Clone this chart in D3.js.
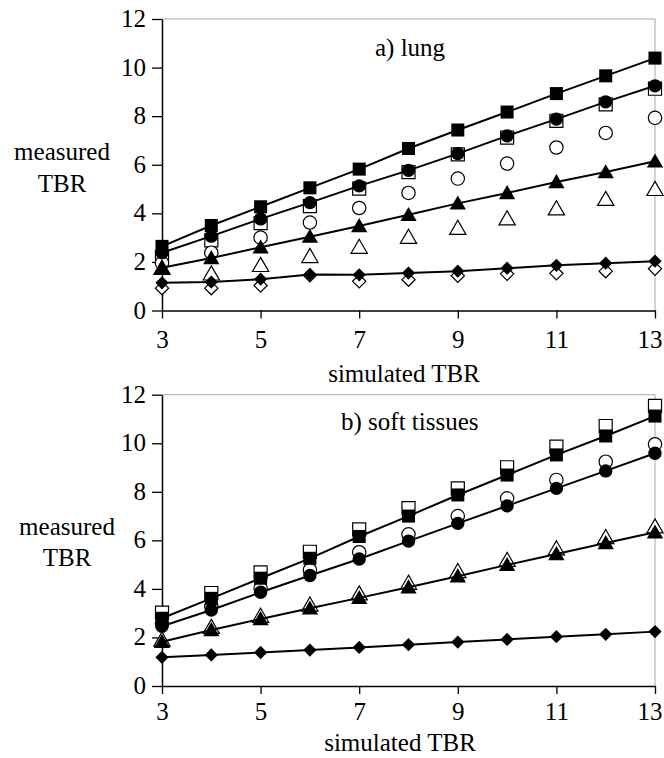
<!DOCTYPE html>
<html>
<head>
<meta charset="utf-8">
<script src="https://cdn.jsdelivr.net/npm/d3@7"></script>
<style>
  html, body { margin: 0; padding: 0; background: #fff; }
  svg { display: block; }
</style>
</head>
<body>
<svg id="chart" width="664" height="758"></svg>
<script>
// Simulated TBR values (x axis)
const simulatedTBR = [3, 4, 5, 6, 7, 8, 9, 10, 11, 12, 13];
const xTicks = [3, 5, 7, 9, 11, 13];
const yTicks = [0, 2, 4, 6, 8, 10, 12];

// a) lung — measured TBR
const lungSquareFilled  = [2.64, 3.50, 4.27, 5.05, 5.82, 6.67, 7.43, 8.17, 8.93, 9.66, 10.39];
const lungCircleFilled  = [2.38, 3.06, 3.77, 4.44, 5.13, 5.77, 6.46, 7.19, 7.88, 8.59, 9.25];
const lungSquareOpen    = [2.22, 2.89, 3.60, 4.30, 5.02, 5.70, 6.43, 7.12, 7.81, 8.49, 9.13];
const lungCircleOpen    = [1.95, 2.38, 3.00, 3.62, 4.22, 4.84, 5.43, 6.05, 6.71, 7.31, 7.93];
const lungTriangleFilled = [1.76, 2.16, 2.60, 3.04, 3.48, 3.94, 4.41, 4.84, 5.29, 5.70, 6.14];
const lungTriangleOpen  = [1.74, 1.51, 1.86, 2.23, 2.61, 3.02, 3.39, 3.78, 4.19, 4.58, 4.99];
const lungDiamondFilled = [1.14, 1.17, 1.29, 1.48, 1.47, 1.54, 1.62, 1.74, 1.86, 1.95, 2.03];
const lungDiamondOpen   = [0.92, 0.92, 1.03, 1.45, 1.20, 1.27, 1.43, 1.51, 1.53, 1.62, 1.72];

// b) soft tissues — measured TBR
const softSquareFilled  = [2.79, 3.61, 4.44, 5.26, 6.16, 7.00, 7.87, 8.69, 9.52, 10.30, 11.12];
const softSquareOpen    = [3.02, 3.83, 4.68, 5.53, 6.45, 7.33, 8.14, 9.01, 9.86, 10.71, 11.54];
const softCircleFilled  = [2.46, 3.13, 3.86, 4.55, 5.23, 5.97, 6.70, 7.42, 8.14, 8.86, 9.59];
const softCircleOpen    = [2.56, 3.27, 4.03, 4.78, 5.51, 6.25, 7.00, 7.73, 8.49, 9.24, 9.96];
const softTriangleFilled = [1.82, 2.31, 2.76, 3.20, 3.63, 4.07, 4.52, 4.99, 5.44, 5.89, 6.33];
const softTriangleOpen  = [1.90, 2.42, 2.88, 3.34, 3.80, 4.24, 4.72, 5.18, 5.66, 6.12, 6.56];
const softDiamondFilled = [1.18, 1.28, 1.38, 1.48, 1.59, 1.70, 1.81, 1.92, 2.03, 2.13, 2.24];

// pick the first installed Times-like face; fall back to the generic serif
function pickFont(candidates) {
  const ctx = document.createElement("canvas").getContext("2d");
  const probe = "measured TBR simulated 0123456789";
  const widthWith = f => { ctx.font = `40px ${f}`; return ctx.measureText(probe).width; };
  for (const name of candidates) {
    const q = `"${name}"`;
    if (widthWith(`${q}, monospace`) !== widthWith("monospace") ||
        widthWith(`${q}, sans-serif`) !== widthWith("sans-serif")) {
      return `${q}, serif`;
    }
  }
  return "serif";
}
const FONT = pickFont(["Liberation Serif", "Times New Roman", "Tinos", "DejaVu Serif", "Noto Serif"]);

// diamond drawn as a square turned 45 degrees (equal width and height)
const symbolRhomb = {
  draw(context, size) {
    const r = Math.sqrt(size / 2);
    context.moveTo(0, -r);
    context.lineTo(r, 0);
    context.lineTo(0, r);
    context.lineTo(-r, 0);
    context.closePath();
  }
};

const panels = [
  {
    title: "a) lung", titleX: 375, titleY: 56,
    top: 19, bottom: 310.5, tickLabelBaseline: 37, axisTitleX: 404, axisTitleY: 382,
    yLabelX: 62, yLabelY: [160, 192],
    open: [
      { values: lungSquareOpen, symbol: d3.symbolSquare },
      { values: lungCircleOpen, symbol: d3.symbolCircle },
      { values: lungTriangleOpen, symbol: d3.symbolTriangle },
      { values: lungDiamondOpen, symbol: symbolRhomb }
    ],
    filled: [
      { values: lungDiamondFilled, symbol: symbolRhomb },
      { values: lungTriangleFilled, symbol: d3.symbolTriangle },
      { values: lungCircleFilled, symbol: d3.symbolCircle },
      { values: lungSquareFilled, symbol: d3.symbolSquare }
    ]
  },
  {
    title: "b) soft tissues", titleX: 341, titleY: 430,
    top: 394.7, bottom: 686, tickLabelBaseline: 34, axisTitleX: 400, axisTitleY: 751,
    yLabelX: 67, yLabelY: [535, 566],
    open: [
      { values: softSquareOpen, symbol: d3.symbolSquare },
      { values: softCircleOpen, symbol: d3.symbolCircle },
      { values: softTriangleOpen, symbol: d3.symbolTriangle }
    ],
    filled: [
      { values: softDiamondFilled, symbol: symbolRhomb },
      { values: softTriangleFilled, symbol: d3.symbolTriangle },
      { values: softCircleFilled, symbol: d3.symbolCircle },
      { values: softSquareFilled, symbol: d3.symbolSquare }
    ]
  }
];

const svg = d3.select("#chart");
const left = 162, right = 655;
const x = d3.scaleLinear().domain([3, 13]).range([left, right]);

// marker areas chosen so every glyph is roughly 13-14 px across
const symbolSize = new Map([
  [d3.symbolSquare, 170],
  [d3.symbolCircle, 140],
  [d3.symbolTriangle, 115],
  [symbolRhomb, 88]
]);
const symbolPath = s => d3.symbol().type(s).size(symbolSize.get(s))();
// triangles are nudged so their visual centre sits on the value
const symbolShift = s => (s === d3.symbolTriangle ? 1.5 : 0);

const styleText = sel => sel
  .attr("font-family", FONT)
  .style("font-family", FONT)
  .attr("font-size", 25)
  .attr("fill", "#000");

panels.forEach(p => {
  const y = d3.scaleLinear().domain([0, 12]).range([p.bottom, p.top]);
  const g = svg.append("g");

  // light frame along the top and right edges of the plot area
  g.append("path")
    .attr("d", `M${left},${y(12)}H${right}V${y(0)}`)
    .attr("fill", "none")
    .attr("stroke", "#a8a8a8")
    .attr("stroke-width", 1);

  // x axis
  const xAxis = g.append("g")
    .attr("transform", `translate(0,${y(0)})`)
    .call(d3.axisBottom(x).tickValues(xTicks).tickSize(8).tickSizeOuter(0).tickFormat(d3.format("d")));
  xAxis.attr("font-family", FONT).attr("font-size", 25);
  xAxis.select(".domain").attr("stroke", "#000").attr("stroke-width", 1.5);
  xAxis.selectAll(".tick line").attr("stroke", "#000").attr("stroke-width", 1.3);
  xAxis.selectAll(".tick text")
    .attr("y", p.tickLabelBaseline).attr("dy", null)
    .call(styleText);
  // the last label is pulled inside the right edge of the figure
  xAxis.selectAll(".tick text")
    .filter(d => d === xTicks[xTicks.length - 1])
    .attr("text-anchor", "end")
    .attr("x", 7);

  // y axis
  const yAxis = g.append("g")
    .attr("transform", `translate(${left},0)`)
    .call(d3.axisLeft(y).tickValues(yTicks).tickSize(10).tickSizeOuter(0).tickPadding(6).tickFormat(d3.format("d")));
  yAxis.attr("font-family", FONT).attr("font-size", 25);
  yAxis.select(".domain").attr("stroke", "#000").attr("stroke-width", 1.5);
  yAxis.selectAll(".tick line").attr("stroke", "#000").attr("stroke-width", 1.3);
  yAxis.selectAll(".tick text")
    .attr("dy", "0.3em")
    .call(styleText);

  // axis titles
  g.append("text")
    .attr("x", p.axisTitleX).attr("y", p.axisTitleY)
    .attr("text-anchor", "middle")
    .call(styleText)
    .text("simulated TBR");
  ["measured", "TBR"].forEach((t, i) => {
    g.append("text")
      .attr("x", p.yLabelX).attr("y", p.yLabelY[i])
      .attr("text-anchor", "middle")
      .call(styleText)
      .text(t);
  });

  // panel title
  g.append("text")
    .attr("x", p.titleX).attr("y", p.titleY)
    .call(styleText)
    .text(p.title);

  // open markers (no connecting line)
  p.open.forEach(s => {
    g.append("g").selectAll("path")
      .data(s.values)
      .join("path")
      .attr("d", symbolPath(s.symbol))
      .attr("transform", (v, i) => `translate(${x(simulatedTBR[i])},${y(v) + symbolShift(s.symbol)})`)
      .attr("fill", "#fff")
      .attr("stroke", "#000")
      .attr("stroke-width", 1.2);
  });

  // connecting lines for the filled series
  const line = d3.line().x((v, i) => x(simulatedTBR[i])).y(v => y(v));
  p.filled.forEach(s => {
    g.append("path")
      .datum(s.values)
      .attr("d", line)
      .attr("fill", "none")
      .attr("stroke", "#000")
      .attr("stroke-width", 2);
  });

  // filled markers
  p.filled.forEach(s => {
    g.append("g").selectAll("path")
      .data(s.values)
      .join("path")
      .attr("d", symbolPath(s.symbol))
      .attr("transform", (v, i) => `translate(${x(simulatedTBR[i])},${y(v) + symbolShift(s.symbol)})`)
      .attr("fill", "#000");
  });
});
</script>
</body>
</html>
